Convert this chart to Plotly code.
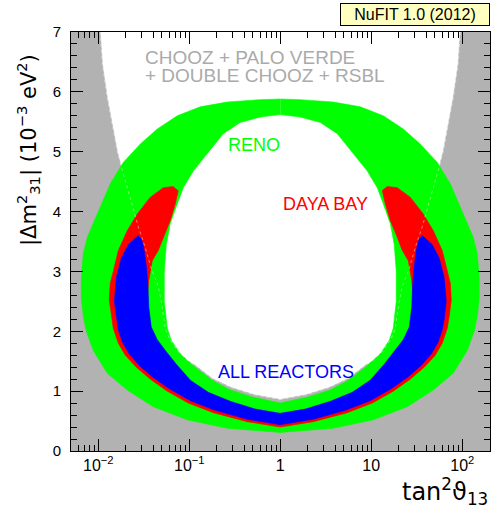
import math
import plotly.graph_objects as go

# ---------------- data (left half, tan^2 theta13 < 1); right half mirrors t -> 1/t ----------------
# CHOOZ + Palo Verde + Double Chooz + RSBL boundary (gray = allowed)
chooz_t  = [0.0105, 0.0111, 0.01256, 0.0146, 0.0162, 0.0179, 0.0225, 0.0275, 0.0328, 0.0382,
            0.0456, 0.0492, 0.0545, 0.0603, 0.0757, 0.0975, 0.119, 0.179, 0.290, 0.518, 1.0]
chooz_dm = [7.00, 6.46, 5.90, 5.35, 5.00, 4.75, 4.20, 3.75, 3.40, 3.05,
            2.75, 2.50, 2.05, 1.88, 1.66, 1.50, 1.42, 1.21, 1.06, 0.94, 0.86]

# RENO outer boundary (top -> bottom)
reno_out_t  = [1.0, 0.603, 0.262, 0.132, 0.0738, 0.0445, 0.0290, 0.0188, 0.0135, 0.00975, 0.00757,
               0.00684, 0.00650, 0.00650, 0.00684, 0.00738, 0.00881, 0.01256, 0.0208, 0.0402,
               0.0951, 0.262, 0.603, 1.0]
reno_out_dm = [5.88, 5.87, 5.83, 5.75, 5.60, 5.38, 5.13, 4.82, 4.46, 3.96, 3.57,
               3.30, 2.90, 2.55, 2.25, 2.00, 1.68, 1.30, 1.02, 0.74,
               0.52, 0.38, 0.33, 0.31]
# RENO inner boundary (top -> bottom)
reno_in_t  = [1.0, 0.603, 0.363, 0.236, 0.158, 0.111, 0.0859, 0.0738, 0.0618, 0.0559, 0.0531,
              0.0531, 0.0573, 0.0634, 0.0796, 0.116, 0.179, 0.282, 0.505, 1.0]
reno_in_dm = [5.62, 5.58, 5.49, 5.30, 4.97, 4.68, 4.40, 4.13, 3.80, 3.45, 3.00,
              2.50, 2.05, 1.85, 1.62, 1.40, 1.18, 1.02, 0.90, 0.80]

# Daya Bay outer boundary (tip -> bottom)
dyb_out_t  = [0.0667, 0.0518, 0.0373, 0.0268, 0.0208, 0.0166, 0.0146, 0.0135, 0.0132, 0.0139,
              0.0146, 0.0166, 0.0198, 0.0262, 0.0373, 0.0573, 0.0975, 0.184, 0.434, 1.0]
dyb_out_dm = [4.42, 4.40, 4.24, 3.96, 3.68, 3.35, 3.00, 2.80, 2.52, 2.25,
              2.05, 1.80, 1.60, 1.40, 1.20, 1.00, 0.80, 0.64, 0.49, 0.40]
# Daya Bay inner boundary (tip -> bottom)
dyb_in_t  = [0.0757, 0.0701, 0.0618, 0.0518, 0.0456, 0.0392, 0.0359, 0.0345, 0.0345, 0.0345,
             0.0412, 0.0518, 0.0757, 0.126, 0.231, 0.468, 1.0]
dyb_in_dm = [4.35, 4.13, 3.85, 3.57, 3.35, 3.18, 2.85, 2.57, 2.40, 2.10,
             1.80, 1.50, 1.22, 0.98, 0.80, 0.66, 0.55]

# All reactors outer boundary (tip -> bottom)
all_out_t  = [0.0275, 0.0214, 0.0179, 0.0158, 0.0150, 0.0158, 0.0166, 0.0184, 0.0219, 0.0282,
              0.0392, 0.0603, 0.103, 0.193, 0.434, 1.0]
all_out_dm = [3.60, 3.45, 3.22, 2.90, 2.50, 2.20, 2.02, 1.82, 1.62, 1.43,
              1.24, 1.04, 0.84, 0.68, 0.53, 0.44]
# All reactors inner boundary (tip -> bottom)
all_in_t  = [0.0297, 0.0316, 0.0337, 0.0350, 0.0359, 0.0382, 0.0445, 0.0545, 0.0720, 0.103,
             0.162, 0.282, 0.531, 1.0]
all_in_dm = [3.55, 3.40, 3.10, 2.80, 2.40, 2.07, 1.86, 1.68, 1.45, 1.18,
             0.98, 0.83, 0.70, 0.63]

x_ticks = [0.01, 0.1, 1, 10, 100]
x_ticktext = ["10<sup>\u22122</sup>", "10<sup>\u22121</sup>", "1", "10", "10<sup>2</sup>"]
y_ticks = [0, 1, 2, 3, 4, 5, 6, 7]

# ---------------- styling ----------------
GRAY = "#b2b2b2"
GREEN = "#00ff00"
RED = "#ff0000"
BLUE = "#0000ff"
LOGX = [-2.3, 2.305]
YR = [0, 7]
xmin, xmax = 10 ** LOGX[0], 10 ** LOGX[1]


def inv(v):
    return [1.0 / a for a in v]


fig = go.Figure()


def poly(x, y, color):
    fig.add_trace(go.Scatter(x=x, y=y, mode="lines", fill="toself", fillcolor=color,
                             line=dict(color=color, width=0.6),
                             hoverinfo="skip", showlegend=False))


# gray allowed region of CHOOZ etc.
gx = [xmin, xmin] + chooz_t + inv(chooz_t)[::-1] + [xmax, xmax]
gy = [YR[0], YR[1]] + chooz_dm + chooz_dm[::-1] + [YR[1], YR[0]]
poly(gx, gy, GRAY)

# RENO annulus (two halves)
poly(reno_out_t + reno_in_t[::-1], reno_out_dm + reno_in_dm[::-1], GREEN)
poly(inv(reno_out_t) + inv(reno_in_t)[::-1], reno_out_dm + reno_in_dm[::-1], GREEN)


def ushape(out_t, out_dm, in_t, in_dm, color):
    x = out_t + inv(out_t)[::-1] + inv(in_t) + in_t[::-1]
    y = out_dm + out_dm[::-1] + in_dm + in_dm[::-1]
    poly(x, y, color)


ushape(dyb_out_t, dyb_out_dm, dyb_in_t, dyb_in_dm, RED)
ushape(all_out_t, all_out_dm, all_in_t, all_in_dm, BLUE)

# faint trace of the CHOOZ contour through the coloured regions
for xs in (chooz_t, inv(chooz_t)):
    fig.add_trace(go.Scatter(x=xs, y=chooz_dm, mode="lines",
                             line=dict(color="rgba(255,255,255,0.45)", width=1, dash="dot"),
                             hoverinfo="skip", showlegend=False))

minor_x = [k * 10.0 ** e for e in range(-3, 3) for k in range(2, 10)
           if LOGX[0] <= math.log10(k * 10.0 ** e) <= LOGX[1]]

XTICKFONT = dict(family="Liberation Sans, Arial, sans-serif", size=16, color="black")
YTICKFONT = dict(family="Liberation Sans, Arial, sans-serif", size=15, color="black")
fig.update_xaxes(type="log", range=LOGX, showgrid=False, zeroline=False,
                 showline=True, linecolor="black", linewidth=1, mirror="ticks",
                 ticks="inside", ticklen=12, tickwidth=1, tickcolor="black",
                 tickvals=x_ticks, ticktext=x_ticktext, tickfont=XTICKFONT,
                 minor=dict(tickvals=minor_x, ticks="inside", ticklen=6, tickcolor="black", showgrid=False))
fig.update_yaxes(range=YR, showgrid=False, zeroline=False,
                 showline=True, linecolor="black", linewidth=1, mirror="ticks",
                 ticks="inside", ticklen=12, tickwidth=1, tickcolor="black",
                 tickvals=y_ticks, tickfont=YTICKFONT, ticklabelstandoff=6,
                 minor=dict(dtick=0.2, ticks="inside", ticklen=6, tickcolor="black", showgrid=False))

W, H = 498, 514
L, R, T, B = 71, 8, 32, 63
pw, ph = W - L - R, H - T - B


def px(xp):
    return (xp - L) / pw


def py(yp):
    return (H - B - yp) / ph


LABF = "Liberation Sans, Arial, sans-serif"
ann = [
    dict(text="CHOOZ + PALO VERDE", x=px(143), y=py(57), xanchor="left", yanchor="middle",
         font=dict(family=LABF, size=19, color="#aaaaaa")),
    dict(text="+ DOUBLE CHOOZ + RSBL", x=px(143), y=py(75), xanchor="left", yanchor="middle",
         font=dict(family=LABF, size=19, color="#aaaaaa")),
    dict(text="RENO", x=px(226), y=py(145), xanchor="left", yanchor="middle",
         font=dict(family=LABF, size=18, color=GREEN)),
    dict(text="DAYA BAY", x=px(281), y=py(204), xanchor="left", yanchor="middle",
         font=dict(family=LABF, size=18, color=RED)),
    dict(text="ALL REACTORS", x=px(216), y=py(372), xanchor="left", yanchor="middle",
         font=dict(family=LABF, size=18, color=BLUE)),
    dict(text="NuFIT 1.0 (2012)", x=px(490), y=py(3), xanchor="right", yanchor="top",
         width=144, height=17, align="center",
         font=dict(family=LABF, size=16, color="black"), bgcolor="#ffffc0",
         bordercolor="black", borderwidth=1, borderpad=2),
    dict(text="|\u0394m<sup>2</sup><sub>31</sub>| (10<sup>\u22123</sup> eV<sup>2</sup>)",
         x=px(28), y=py(150), xanchor="center", yanchor="middle", textangle=-90,
         font=dict(family="DejaVu Sans, sans-serif", size=21, color="black")),
    dict(text="tan<sup>2</sup>\u03d1<sub>13</sub>", x=px(490), y=py(492), xanchor="right", yanchor="middle",
         font=dict(family="DejaVu Sans, sans-serif", size=24, color="black")),
]
for a in ann:
    a.update(xref="paper", yref="paper", showarrow=False)

fig.update_layout(width=W, height=H, margin=dict(l=L, r=R, t=T, b=B, autoexpand=False),
                  paper_bgcolor="white", plot_bgcolor="white", annotations=ann,
                  hovermode=False, showlegend=False)

fig.write_html("out.html", config={"displayModeBar": False},
               post_script="document.body.style.margin='0';document.body.style.padding='0';"
                           "document.documentElement.style.overflow='hidden';")
